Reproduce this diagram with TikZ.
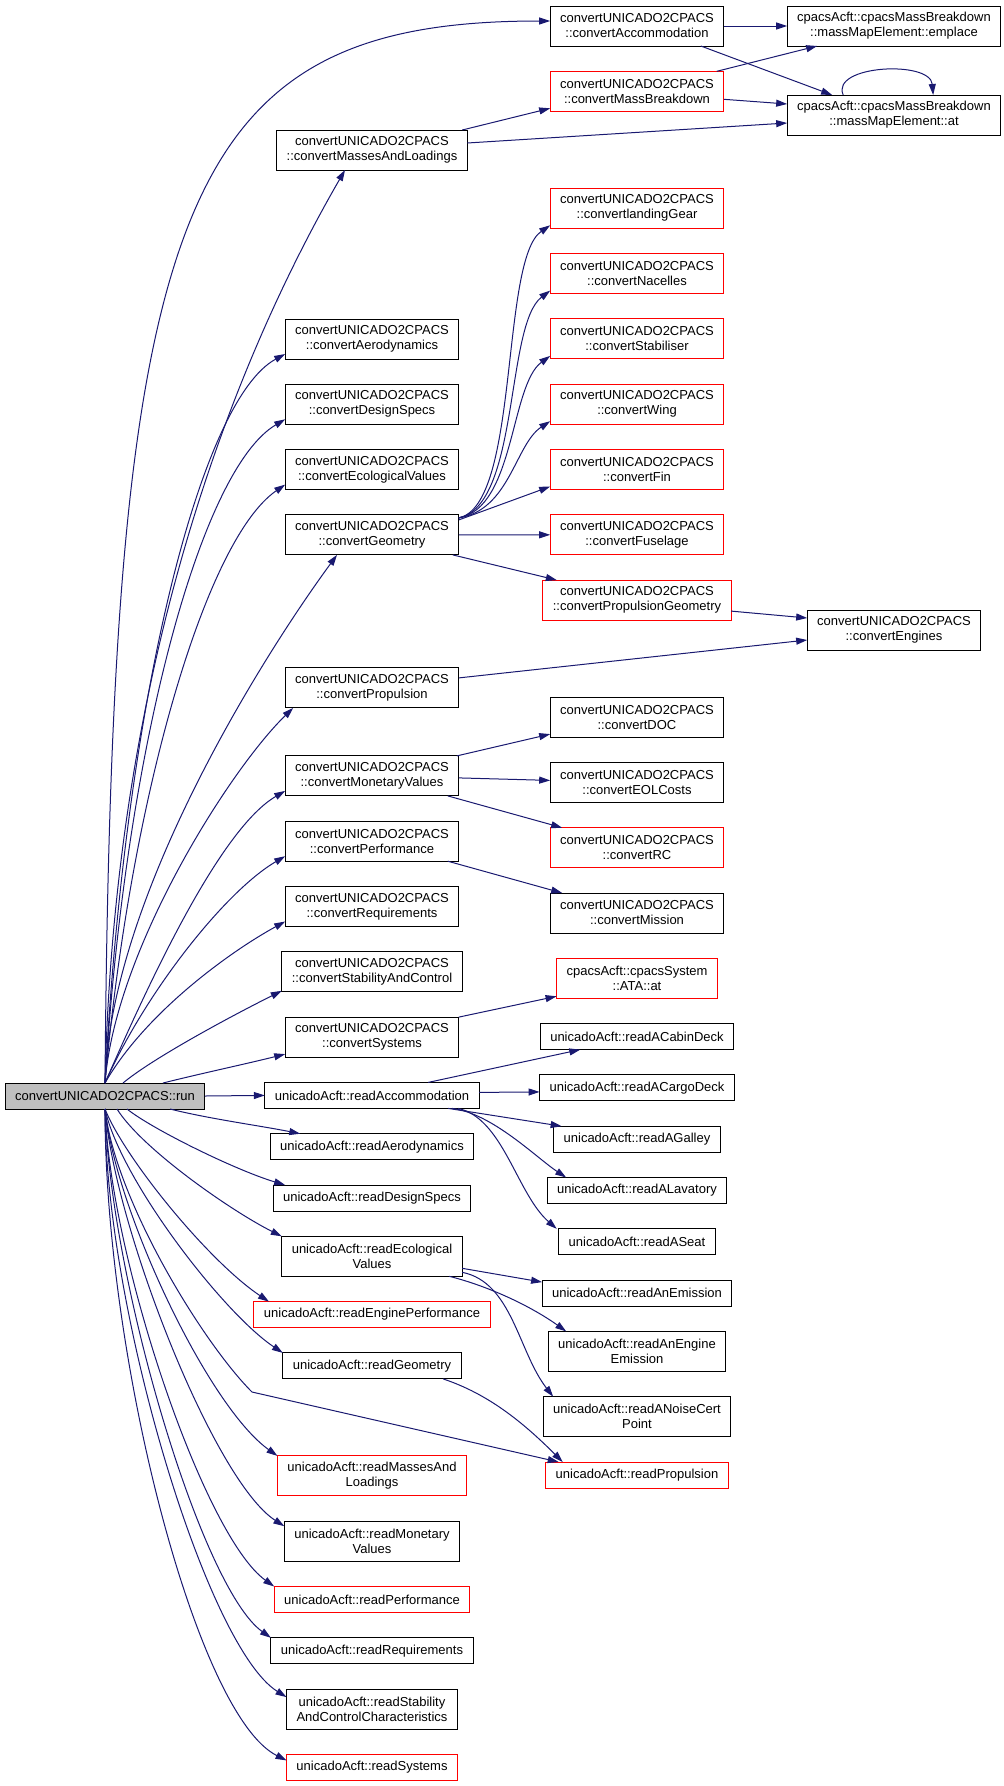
\documentclass[tikz,border=0pt]{standalone}
\usepackage{fontspec}
\setmainfont{Liberation Sans}
\usepackage{tikz}
\usetikzlibrary{arrows.meta,positioning}
\definecolor{edgeblue}{HTML}{191970}
\definecolor{rootgray}{HTML}{BFBFBF}
\tikzstyle{func} = [rectangle, draw=black, line width=1pt, fill=white, inner xsep=10pt, inner ysep=2pt, outer sep=0pt, minimum height=26pt, align=center, font=\fontsize{13}{15}\selectfont]
\tikzstyle{func2} = [func, minimum height=40pt]
\tikzstyle{undoc} = [draw=red]
\tikzstyle{root} = [fill=rootgray]
\tikzstyle{call} = [draw=edgeblue, line width=1pt, -{Triangle[length=11pt,width=7pt]}]

\begin{document}
\begin{tikzpicture}[x=1pt, y=-1pt, node distance=25.3pt]
\useasboundingbox (0,0) rectangle (1004,1786);

\node (run) [func, root] at (105,1096) {convertUNICADO2CPACS::run};

\node (cv1) [func2] at (372,150) {convertUNICADO2CPACS\\::convertMassesAndLoadings};
\node (cv2) [func2, below=149pt of cv1] {convertUNICADO2CPACS\\::convertAerodynamics};
\node (cv3) [func2, below=of cv2] {convertUNICADO2CPACS\\::convertDesignSpecs};
\node (cv4) [func2, below=of cv3] {convertUNICADO2CPACS\\::convertEcologicalValues};
\node (cv5) [func2, below=of cv4] {convertUNICADO2CPACS\\::convertGeometry};
\node (cv6) [func2, below=113pt of cv5] {convertUNICADO2CPACS\\::convertPropulsion};
\node (cv7) [func2, below=48pt of cv6] {convertUNICADO2CPACS\\::convertMonetaryValues};
\node (cv8) [func2, below=of cv7] {convertUNICADO2CPACS\\::convertPerformance};
\node (cv9) [func2, below=of cv8] {convertUNICADO2CPACS\\::convertRequirements};
\node (cv10) [func2, below=of cv9] {convertUNICADO2CPACS\\::convertStabilityAndControl};
\node (cv11) [func2, below=of cv10] {convertUNICADO2CPACS\\::convertSystems};
\node (rd1) [func, below=of cv11] {unicadoAcft::readAccommodation};
\node (rd2) [func, below=of rd1] {unicadoAcft::readAerodynamics};
\node (rd3) [func, below=of rd2] {unicadoAcft::readDesignSpecs};
\node (rd4) [func2, below=of rd3] {unicadoAcft::readEcological\\Values};
\node (rd5) [func, undoc, below=of rd4] {unicadoAcft::readEnginePerformance};
\node (rd6) [func, below=of rd5] {unicadoAcft::readGeometry};
\node (rd7) [func2, undoc, below=77pt of rd6] {unicadoAcft::readMassesAnd\\Loadings};
\node (rd8) [func2, below=of rd7] {unicadoAcft::readMonetary\\Values};
\node (rd9) [func, undoc, below=of rd8] {unicadoAcft::readPerformance};
\node (rd10) [func, below=of rd9] {unicadoAcft::readRequirements};
\node (rd11) [func2, below=of rd10] {unicadoAcft::readStability\\AndControlCharacteristics};
\node (rd12) [func, undoc, below=of rd11] {unicadoAcft::readSystems};

\node (cv12) [func2] at (637,26) {convertUNICADO2CPACS\\::convertAccommodation};
\node (cv13) [func2, undoc, below=of cv12] {convertUNICADO2CPACS\\::convertMassBreakdown};
\node (cv14) [func2, undoc, below=77pt of cv13] {convertUNICADO2CPACS\\::convertlandingGear};
\node (cv15) [func2, undoc, below=of cv14] {convertUNICADO2CPACS\\::convertNacelles};
\node (cv16) [func2, undoc, below=of cv15] {convertUNICADO2CPACS\\::convertStabiliser};
\node (cv17) [func2, undoc, below=of cv16] {convertUNICADO2CPACS\\::convertWing};
\node (cv18) [func2, undoc, below=of cv17] {convertUNICADO2CPACS\\::convertFin};
\node (cv19) [func2, undoc, below=of cv18] {convertUNICADO2CPACS\\::convertFuselage};
\node (cv20) [func2, undoc, below=of cv19] {convertUNICADO2CPACS\\::convertPropulsionGeometry};
\node (cv21) [func2, below=77pt of cv20] {convertUNICADO2CPACS\\::convertDOC};
\node (cv22) [func2, below=of cv21] {convertUNICADO2CPACS\\::convertEOLCosts};
\node (cv23) [func2, undoc, below=of cv22] {convertUNICADO2CPACS\\::convertRC};
\node (cv24) [func2, below=of cv23] {convertUNICADO2CPACS\\::convertMission};
\node (ex3) [func2, undoc, below=of cv24] {cpacsAcft::cpacsSystem\\::ATA::at};
\node (rd13) [func, below=of ex3] {unicadoAcft::readACabinDeck};
\node (rd14) [func, below=of rd13] {unicadoAcft::readACargoDeck};
\node (rd15) [func, below=of rd14] {unicadoAcft::readAGalley};
\node (rd16) [func, below=of rd15] {unicadoAcft::readALavatory};
\node (rd17) [func, below=of rd16] {unicadoAcft::readASeat};
\node (rd18) [func, below=of rd17] {unicadoAcft::readAnEmission};
\node (rd19) [func2, below=of rd18] {unicadoAcft::readAnEngine\\Emission};
\node (rd20) [func2, below=of rd19] {unicadoAcft::readANoiseCert\\Point};
\node (rd21) [func, undoc, below=of rd20] {unicadoAcft::readPropulsion};

\node (ex1) [func2] at (894,26) {cpacsAcft::cpacsMassBreakdown\\::massMapElement::emplace};
\node (ex2) [func2, below=49pt of ex1] {cpacsAcft::cpacsMassBreakdown\\::massMapElement::at};
\node (cv25) [func2] at (894,630) {convertUNICADO2CPACS\\::convertEngines};

\draw [call] (run.north) .. controls +(7,-883) and +(-370,0) .. ([yshift=5]cv12.west);
\draw [call] (run.north) .. controls +(10,-433) and +(-104,180) .. ([xshift=-27]cv1.south);
\draw [call] (run.north) .. controls +(20,-383) and +(-85,46) .. ([yshift=5]cv2.south west);
\draw [call] (run.north) .. controls +(20,-333) and +(-85,50) .. ([yshift=5]cv3.south west);
\draw [call] (run.north) .. controls +(25,-283) and +(-80,55) .. ([yshift=5]cv4.south west);
\draw [call] (run.north) .. controls +(5,-183) and +(-77,105) .. ([xshift=-35]cv5.south);
\draw [call] (run.north) .. controls +(10,-133) and +(-63,61) .. ([xshift=8]cv6.south west);
\draw [call] (run.north) .. controls +(45,-103) and +(-65,38) .. ([yshift=5]cv7.south west);
\draw [call] (run.north) .. controls +(40,-90) and +(-60,35) .. ([yshift=5]cv8.south west);
\draw [call] (run.north) .. controls +(40,-70) and +(-55,30) .. ([yshift=5]cv9.south west);
\draw [call] ([xshift=18]run.north) .. controls +(30,-25) and +(-50,25) .. ([yshift=1]cv10.south west);
\draw [call] ([xshift=58]run.north) .. controls +(40,-10) and +(-40,10) .. ([yshift=3]cv11.south west);
\draw [call] (run.east) -- (rd1.west);
\draw [call] ([xshift=65]run.south) .. controls +(40,10) and +(-40,-8) .. ([xshift=30]rd2.north west);
\draw [call] ([xshift=22]run.south) .. controls +(25,20) and +(-50,-15) .. ([xshift=12]rd3.north west);
\draw [call] ([xshift=12]run.south) .. controls +(25,40) and +(-50,-25) .. (rd4.north west);
\draw [call] (run.south) .. controls +(20,50) and +(-60,-40) .. ([xshift=15]rd5.north west);
\draw [call] (run.south) .. controls +(15,70) and +(-60,-40) .. (rd6.north west);
\coordinate (kink) at (252,1392);
\draw [call] (run.south) .. controls +(10,90) and +(-50,-50) .. (kink) -- ([xshift=13]rd21.north west);
\draw [call] (run.south) .. controls +(10,100) and +(-70,-50) .. (rd7.north west);
\draw [call] (run.south) .. controls +(10,120) and +(-70,-45) .. ([yshift=-5]rd8.north west);
\draw [call] (run.south) .. controls +(5,150) and +(-70,-50) .. (rd9.north west);
\draw [call] (run.south) .. controls +(5,170) and +(-70,-50) .. (rd10.north west);
\draw [call] (run.south) .. controls +(0,200) and +(-80,-50) .. ([yshift=-8]rd11.north west);
\draw [call] (run.south) .. controls +(0,250) and +(-90,-45) .. ([yshift=-6]rd12.north west);

\draw [call] (cv12.east) -- (ex1.west);
\draw [call] ([xshift=-23]cv12.south east) -- ([xshift=45]ex2.north west);
\draw [call] ([xshift=-7]cv13.north east) -- ([xshift=30]ex1.south west);
\draw [call] ([yshift=-8]cv13.east) -- ([yshift=11]ex2.west);
\draw [call] ([xshift=56]ex2.north west) .. controls +(-13,-30) and +(-3,-35) .. ([xshift=146]ex2.north west);
\draw [call] ([xshift=-5]cv1.north east) -- ([yshift=3]cv13.south west);
\draw [call] ([yshift=7]cv1.east) -- ([yshift=-8]ex2.west);

\draw [call] ([yshift=-3]cv5.north east) .. controls +(61,-13) and +(-50,34) .. ([yshift=3]cv14.south west);
\draw [call] ([yshift=-3]cv5.north east) .. controls +(61,-13) and +(-45,34) .. ([yshift=3]cv15.south west);
\draw [call] ([yshift=-3]cv5.north east) .. controls +(56,-10) and +(-40,29) .. ([yshift=3]cv16.south west);
\draw [call] ([yshift=-3]cv5.north east) .. controls +(51,-8) and +(-35,23) .. ([yshift=3]cv17.south west);
\draw [call] ([yshift=-5]cv5.north east) -- ([yshift=3]cv18.south west);
\draw [call] (cv5.east) -- (cv19.west);
\draw [call] ([xshift=-6]cv5.south east) -- ([xshift=14]cv20.north west);
\draw [call] ([yshift=-11]cv20.east) -- ([yshift=12]cv25.west);
\draw [call] ([yshift=10]cv6.east) -- ([yshift=-10]cv25.west);
\draw [call] ([xshift=-2]cv7.north east) -- ([yshift=3]cv21.south west);
\draw [call] ([yshift=-2]cv7.east) -- ([yshift=2]cv22.west);
\draw [call] ([xshift=-11]cv7.south east) -- ([xshift=12]cv23.north west);
\draw [call] ([xshift=-11]cv8.south east) -- ([xshift=12]cv24.north west);
\draw [call] (cv11.north east) -- ([yshift=2]ex3.south west);

\draw [call] ([xshift=-51]rd1.north east) -- ([xshift=40]rd13.south west);
\draw [call] ([yshift=3]rd1.east) -- ([yshift=-4]rd14.west);
\draw [call] ([xshift=-31]rd1.south east) -- ([xshift=8]rd15.north west);
\draw [call] ([xshift=-27]rd1.south east) .. controls +(40,5) and +(-30,-20) .. ([xshift=19]rd16.north west);
\draw [call] ([xshift=-21]rd1.south east) .. controls +(45,10) and +(-40,-35) .. ([xshift=-2]rd17.north west);
\draw [call] ([yshift=-12]rd4.east) -- ([yshift=-2]rd18.north west);
\draw [call] ([xshift=-13]rd4.south east) .. controls +(40,10) and +(-35,-25) .. ([xshift=18]rd19.north west);
\draw [call] ([yshift=4]rd4.south east) .. controls +(50,10) and +(-35,-45) .. ([xshift=10]rd20.north west);
\draw [call] ([xshift=-18]rd6.south east) .. controls +(45,15) and +(-40,-40) .. ([xshift=17]rd21.north west);

\end{tikzpicture}
\end{document}
